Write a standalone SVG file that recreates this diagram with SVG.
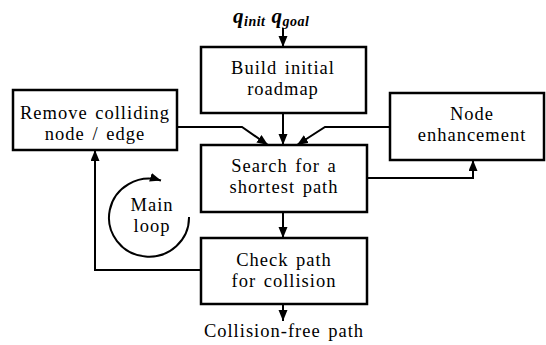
<svg xmlns="http://www.w3.org/2000/svg" width="546" height="345" viewBox="0 0 546 345" font-family="'Liberation Serif', 'Times New Roman', Times, serif">
<style>
.box{fill:#fff;stroke:#000;stroke-width:2.5}
.t{font-size:18.5px;fill:#000;text-anchor:middle;letter-spacing:1px;word-spacing:2px}
.c{fill:none;stroke:#000;stroke-width:2}
.q{font-weight:bold;font-style:italic;fill:#000}
</style>
<defs>
<marker id="ah" markerUnits="userSpaceOnUse" markerWidth="12" markerHeight="10" refX="11" refY="4.5" orient="auto">
<path d="M0,0 L11,4.5 L0,9 z" fill="#000"/>
</marker>
</defs>
<rect width="546" height="345" fill="#fff"/>
<g id="connectors">
<line class="c" x1="283" y1="28" x2="283" y2="47" marker-end="url(#ah)"/>
<line class="c" x1="283" y1="113" x2="283" y2="145" marker-end="url(#ah)"/>
<polyline class="c" points="177,127 242,127 268,145" marker-end="url(#ah)"/>
<polyline class="c" points="390,127 325,127 297,145" marker-end="url(#ah)"/>
<polyline class="c" points="367,178 473,178 473,160" marker-end="url(#ah)"/>
<line class="c" x1="283" y1="212" x2="283" y2="238" marker-end="url(#ah)"/>
<polyline class="c" points="201,270 95,270 95,150" marker-end="url(#ah)"/>
<line class="c" x1="283" y1="304" x2="283" y2="321" marker-end="url(#ah)"/>
<path class="c" d="M189,217 A40,39 0 1 1 161,180.5" marker-end="url(#ah)"/>
</g>
<g id="input">
<text class="q" x="233" y="23" font-size="21" letter-spacing="0.5">q<tspan font-size="14" dy="3">init</tspan><tspan dx="6" dy="-3">q</tspan><tspan font-size="14" dy="3">goal</tspan></text>
</g>
<g id="build">
<rect class="box" x="201" y="47" width="165" height="66"/>
<text class="t" x="283" y="74">Build initial</text>
<text class="t" x="283" y="95">roadmap</text>
</g>
<g id="remove">
<rect class="box" x="13" y="90" width="164" height="60"/>
<text class="t" x="95" y="119">Remove colliding</text>
<text class="t" x="95" y="140">node / edge</text>
</g>
<g id="search">
<rect class="box" x="201" y="145" width="166" height="67"/>
<text class="t" x="284" y="172">Search for a</text>
<text class="t" x="284" y="193">shortest path</text>
</g>
<g id="enhance">
<rect class="box" x="390" y="93" width="154" height="67"/>
<text class="t" x="472" y="120">Node</text>
<text class="t" x="472" y="141">enhancement</text>
</g>
<g id="check">
<rect class="box" x="201" y="238" width="166" height="66"/>
<text class="t" x="284" y="266">Check path</text>
<text class="t" x="284" y="287">for collision</text>
</g>
<g id="mainloop">
<text class="t" x="152" y="211">Main</text>
<text class="t" x="152" y="232">loop</text>
</g>
<g id="output">
<text class="t" x="284" y="337">Collision-free path</text>
</g>
</svg>
